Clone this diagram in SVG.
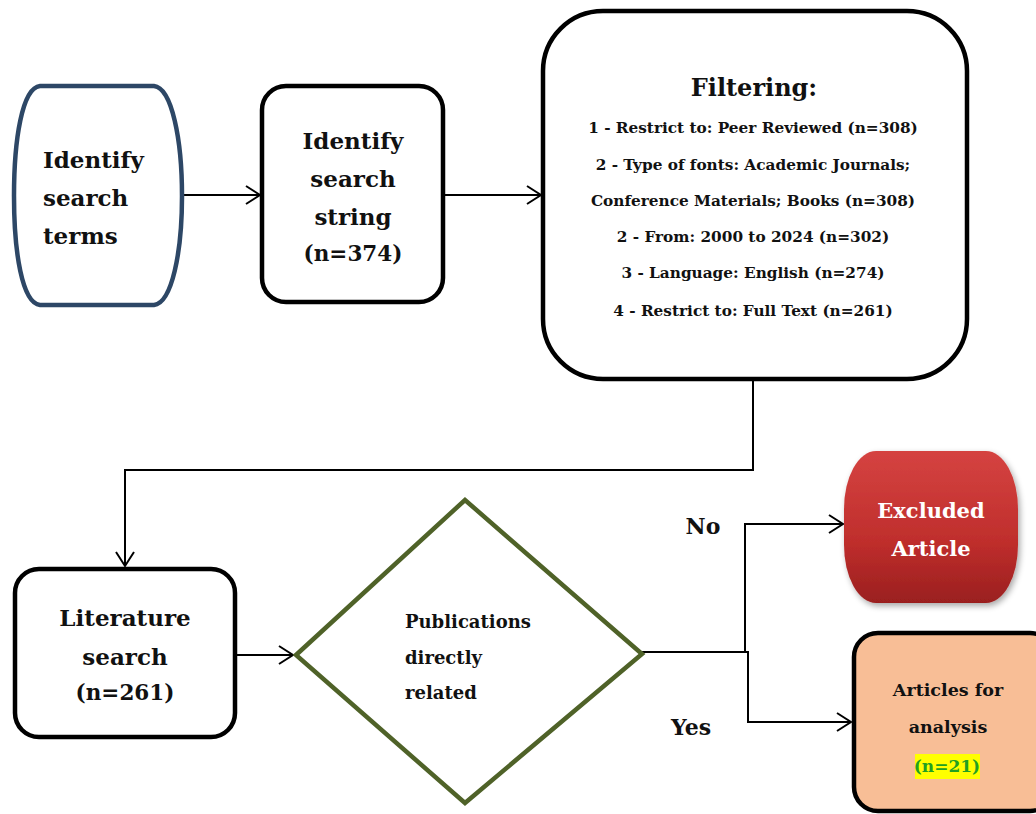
<svg xmlns="http://www.w3.org/2000/svg" width="1036" height="814" viewBox="0 0 1036 814">
<style>
.t{font-family:"DejaVu Serif","Liberation Serif",serif;font-weight:bold;fill:#111}
.big{font-size:23px}
.mid{font-size:15.3px}
.box{fill:#fff;stroke:#000;stroke-width:4.5}
.ln{fill:none;stroke:#000;stroke-width:2}
</style>
<defs>
<marker id="arr" markerUnits="userSpaceOnUse" markerWidth="18" markerHeight="22" refX="16" refY="11" orient="auto">
<path d="M2,2 L16,11 L2,20" fill="none" stroke="#000" stroke-width="2"/>
</marker>
<linearGradient id="red" x1="0" y1="0" x2="0" y2="1">
<stop offset="0" stop-color="#d54341"/>
<stop offset="0.6" stop-color="#bf2e2c"/>
<stop offset="1" stop-color="#9a1f1f"/>
</linearGradient>
<filter id="sh" x="-10%" y="-10%" width="130%" height="130%">
<feGaussianBlur in="SourceAlpha" stdDeviation="3"/>
<feOffset dx="2" dy="3"/>
<feComponentTransfer><feFuncA type="linear" slope="0.35"/></feComponentTransfer>
<feMerge><feMergeNode/><feMergeNode in="SourceGraphic"/></feMerge>
</filter>
</defs>
<rect width="1036" height="814" fill="#fff"/>

<g id="connectors">
<line class="ln" x1="183" y1="195" x2="260" y2="195" marker-end="url(#arr)"/>
<line class="ln" x1="443" y1="195" x2="541" y2="195" marker-end="url(#arr)"/>
<polyline class="ln" points="753,380 753,470 125,470 125,566" marker-end="url(#arr)"/>
<line class="ln" x1="235" y1="655" x2="293" y2="655" marker-end="url(#arr)"/>
<polyline class="ln" points="642,652 745,652 745,524 843,524" marker-end="url(#arr)"/>
<polyline class="ln" points="745,652 748,652 748,722 851,722" marker-end="url(#arr)"/>
<text class="t" x="703" y="526" font-size="22" text-anchor="middle" dominant-baseline="central">No</text>
<text class="t" x="691" y="727" font-size="22" text-anchor="middle" dominant-baseline="central">Yes</text>
</g>

<g id="terms">
<path d="M40,86 L154,86 C172,88 182,140 182,196 C182,252 172,303 154,305 L40,305 C22,303 14,252 14,196 C14,140 22,88 40,86 Z" fill="#fff" stroke="#2d4766" stroke-width="4.5"/>
<text class="t big" x="43" y="159" dominant-baseline="central">Identify</text>
<text class="t big" x="43" y="197" dominant-baseline="central">search</text>
<text class="t big" x="43" y="235" dominant-baseline="central">terms</text>
</g>

<g id="string">
<rect class="box" x="262" y="86" width="181" height="216" rx="24"/>
<text class="t big" x="353" y="140" text-anchor="middle" dominant-baseline="central">Identify</text>
<text class="t big" x="353" y="178" text-anchor="middle" dominant-baseline="central">search</text>
<text class="t big" x="353" y="216" text-anchor="middle" dominant-baseline="central">string</text>
<text class="t" x="353" y="253" font-size="21.5" text-anchor="middle" dominant-baseline="central">(n=374)</text>
</g>

<g id="filtering">
<rect class="box" x="543" y="11" width="424" height="368" rx="60"/>
<text class="t" x="754" y="87" font-size="24" text-anchor="middle" dominant-baseline="central">Filtering:</text>
<text class="t mid" x="753" y="128" text-anchor="middle" dominant-baseline="central">1 - Restrict to: Peer Reviewed (n=308)</text>
<text class="t mid" x="753" y="165" text-anchor="middle" dominant-baseline="central">2 - Type of fonts: Academic Journals;</text>
<text class="t mid" x="753" y="201" text-anchor="middle" dominant-baseline="central">Conference Materials; Books (n=308)</text>
<text class="t mid" x="753" y="237" text-anchor="middle" dominant-baseline="central">2 - From: 2000 to 2024 (n=302)</text>
<text class="t mid" x="753" y="273" text-anchor="middle" dominant-baseline="central">3 - Language: English (n=274)</text>
<text class="t mid" x="753" y="311" text-anchor="middle" dominant-baseline="central">4 - Restrict to: Full Text (n=261)</text>
</g>

<g id="literature">
<rect class="box" x="15" y="569" width="220" height="168" rx="24"/>
<text class="t big" x="125" y="617" text-anchor="middle" dominant-baseline="central">Literature</text>
<text class="t big" x="125" y="656" text-anchor="middle" dominant-baseline="central">search</text>
<text class="t" x="125" y="692" font-size="21.5" text-anchor="middle" dominant-baseline="central">(n=261)</text>
</g>

<g id="decision">
<polygon points="296,655 465,500 642,654 465,803" fill="#fff" stroke="#4f6228" stroke-width="4.5"/>
<text class="t" x="405" y="621" font-size="18" dominant-baseline="central">Publications</text>
<text class="t" x="405" y="657" font-size="18" dominant-baseline="central">directly</text>
<text class="t" x="405" y="692" font-size="18" dominant-baseline="central">related</text>
</g>

<g id="excluded">
<rect x="844" y="451" width="174" height="152" rx="32" ry="58" fill="url(#red)" filter="url(#sh)"/>
<text class="t" x="931" y="510" font-size="21" text-anchor="middle" dominant-baseline="central" style="fill:#fff">Excluded</text>
<text class="t" x="931" y="548" font-size="21" text-anchor="middle" dominant-baseline="central" style="fill:#fff">Article</text>
</g>

<g id="analysis">
<rect x="854" y="633" width="200" height="178" rx="24" fill="#f8be96" stroke="#000" stroke-width="4.5"/>
<text class="t" x="948" y="690" font-size="17.5" text-anchor="middle" dominant-baseline="central">Articles for</text>
<text class="t" x="948" y="727" font-size="17.5" text-anchor="middle" dominant-baseline="central">analysis</text>
<rect x="915" y="754" width="65" height="25" fill="#ffff00"/>
<text class="t" x="947" y="766" font-size="17" text-anchor="middle" dominant-baseline="central" style="fill:#22a022">(n=21)</text>
</g>
</svg>
